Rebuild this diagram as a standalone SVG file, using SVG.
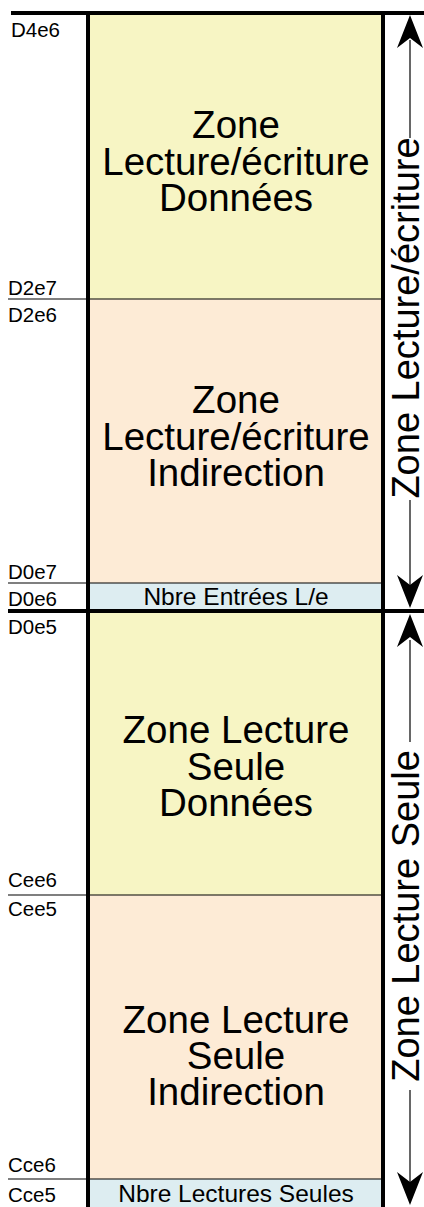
<svg xmlns="http://www.w3.org/2000/svg" width="424" height="1207" viewBox="0 0 424 1207">
<style>
.y{fill:#F7F5C4}
.p{fill:#FDEBD6}
.b{fill:#DDEDF1}
.big{font-family:"Liberation Sans",Arial,sans-serif;font-size:38.5px;text-anchor:middle;fill:#000}
.rot{font-family:"Liberation Sans",Arial,sans-serif;font-size:38px;text-anchor:middle;fill:#000}
.mid{font-family:"Liberation Sans",Arial,sans-serif;font-size:24.5px;text-anchor:middle;fill:#000}
.lab{font-family:"Liberation Sans",Arial,sans-serif;font-size:20.5px;fill:#000}
.thin{stroke:#000;stroke-width:1.2;fill:none}
.thick{stroke:#000;stroke-width:4;fill:none}
.ah{fill:#000}
</style>
<g id="zone-rw-data">
<rect class="y" x="88" y="13" width="295" height="286"/>
<text class="big" x="236" y="138">Zone</text>
<text class="big" x="236" y="175">Lecture/écriture</text>
<text class="big" x="236" y="211">Données</text>
</g>
<g id="zone-rw-ind">
<rect class="p" x="88" y="299" width="295" height="284"/>
<text class="big" x="236" y="413">Zone</text>
<text class="big" x="236" y="450">Lecture/écriture</text>
<text class="big" x="236" y="486">Indirection</text>
</g>
<g id="nbre-le">
<rect class="b" x="88" y="583" width="295" height="28"/>
<text class="mid" x="236" y="605">Nbre Entrées L/e</text>
</g>
<g id="zone-ro-data">
<rect class="y" x="88" y="611" width="295" height="284"/>
<text class="big" x="236" y="743">Zone Lecture</text>
<text class="big" x="236" y="780">Seule</text>
<text class="big" x="236" y="816">Données</text>
</g>
<g id="zone-ro-ind">
<rect class="p" x="88" y="895" width="295" height="284"/>
<text class="big" x="236" y="1033">Zone Lecture</text>
<text class="big" x="236" y="1069">Seule</text>
<text class="big" x="236" y="1105">Indirection</text>
</g>
<g id="nbre-ro">
<rect class="b" x="88" y="1179" width="295" height="28"/>
<text class="mid" x="236" y="1202">Nbre Lectures Seules</text>
</g>
<g id="labels">
<text class="lab" x="11" y="37">D4e6</text>
<text class="lab" x="8" y="295">D2e7</text>
<text class="lab" x="8" y="322">D2e6</text>
<text class="lab" x="8" y="579">D0e7</text>
<text class="lab" x="8" y="606">D0e6</text>
<text class="lab" x="8" y="634">D0e5</text>
<text class="lab" x="8" y="887">Cee6</text>
<text class="lab" x="8" y="916">Cee5</text>
<text class="lab" x="8" y="1172">Cce6</text>
<text class="lab" x="8" y="1202">Cce5</text>
</g>
<g id="connectors">
<line class="thin" x1="8" y1="299" x2="383" y2="299"/>
<line class="thin" x1="8" y1="583" x2="383" y2="583"/>
<line class="thin" x1="8" y1="895" x2="383" y2="895"/>
<line class="thin" x1="8" y1="1179" x2="383" y2="1179"/>
<line class="thick" x1="11" y1="13" x2="424" y2="13"/>
<line class="thick" x1="8" y1="611" x2="424" y2="611"/>
<line class="thick" x1="88" y1="11" x2="88" y2="1207"/>
<line class="thick" x1="383" y1="11" x2="383" y2="1207"/>
<line class="thin" x1="410" y1="40" x2="410" y2="138"/>
<line class="thin" x1="410" y1="500" x2="410" y2="585"/>
<line class="thin" x1="410" y1="640" x2="410" y2="742"/>
<line class="thin" x1="410" y1="1090" x2="410" y2="1182"/>
<path class="ah" d="M410,15 L423,48 L410,38 L397,48 Z"/>
<path class="ah" d="M410,608 L423,575 L410,585 L397,575 Z"/>
<path class="ah" d="M410,614 L423,647 L410,637 L397,647 Z"/>
<path class="ah" d="M410,1205 L423,1172 L410,1182 L397,1172 Z"/>
<text class="rot" transform="translate(419,318) rotate(-90)">Zone Lecture/écriture</text>
<text class="rot" transform="translate(419,916) rotate(-90)">Zone Lecture Seule</text>
</g>
</svg>
